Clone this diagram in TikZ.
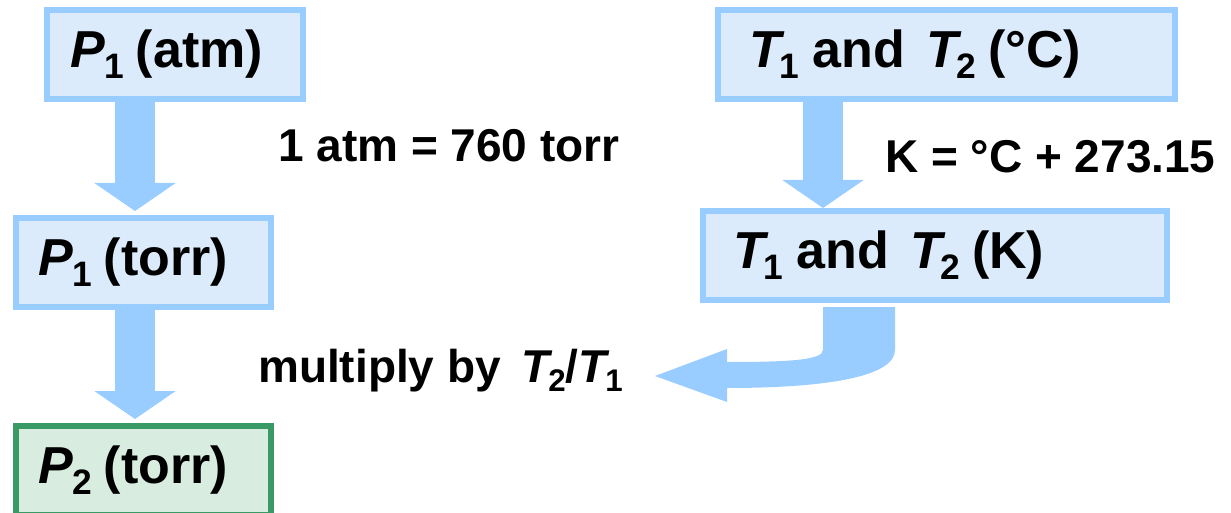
\documentclass[tikz,border=0pt]{standalone}
\usepackage{fontspec}
\setmainfont{Liberation Sans}
\usetikzlibrary{arrows.meta, calc}
\definecolor{flowblue}{HTML}{99CCFF}
\definecolor{boxfill}{HTML}{DCEBFB}
\definecolor{greenline}{HTML}{3A9A66}
\definecolor{greenfill}{HTML}{D8ECDF}
\newcommand{\lo}[2][-0.1em]{\kern#1\raisebox{-0.21em}{\scalebox{0.68}{#2}}}

\begin{document}
\begin{tikzpicture}[x=1pt, y=-1pt, font=\fontsize{46}{52}\selectfont\bfseries,
    box/.style={draw=flowblue, fill=boxfill, line width=6pt, minimum height=89pt,
      align=left, inner ysep=0pt, font=\fontsize{52}{60}\selectfont\bfseries},
    endbox/.style={box, draw=greenline, fill=greenfill},
    flow/.style={draw=flowblue, line width=40pt, shorten >=4pt,
      -{Triangle[length=28pt, width=80pt]}},
    lbl/.style={anchor=base west, inner sep=0pt}]
  \useasboundingbox (0,0) rectangle (1231,513);

  % left column: pressure
  \node[box, text width=210pt, inner xsep=23pt] (p1atm)  at (175,54.5)    {\textit{P}\lo[0em]{1}\hspace{0.22em}(atm)};
  \node[box, text width=211pt, inner xsep=22pt] (p1torr) at (143.5,262.5) {\textit{P}\lo[0em]{1}\hspace{0.22em}(torr)};
  \node[endbox, text width=211pt, inner xsep=22pt] (p2torr) at (143.5,470.5) {\textit{P}\lo[0em]{2}\hspace{0.22em}(torr)};

  % right column: temperature
  \node[box, text width=395pt, inner xsep=31pt] (tc) at (946.5,54.5)
    {\textit{T}\lo{1}\hspace{0.26em}and\hspace{0.42em}\textit{T}\lo{2}\hspace{0.22em}(°C)};
  \node[box, text width=404pt, inner xsep=30pt] (tk) at (935,255.5)
    {\textit{T}\lo{1}\hspace{0.26em}and\hspace{0.42em}\textit{T}\lo{2}\hspace{0.22em}(K)};

  \coordinate (lx) at (135,0);
  \coordinate (rx) at (823,0);
  \draw[flow] (p1atm.south -| lx)  -- (p1torr.north -| lx);
  \draw[flow] (p1torr.south -| lx) -- (p2torr.north -| lx);
  \draw[flow, shorten >=0pt] (tc.south -| rx) -- (tk.north -| rx);

  % bent arrow back to the pressure side
  \fill[flowblue] ([xshift=-112pt, yshift=-4pt]tk.south) -- ++(72,0) -- ++(0,43)
    .. controls +(0,28) and +(93,0) .. ++(-168,38) -- ++(0,14) -- ++(-72,-26)
    -- ++(72,-27) -- ++(0,13) .. controls +(63,0) and +(0,10) .. ++(96,-12) -- cycle;

  \node[lbl] (conv)  at (278,162) {1 atm = 760 torr};
  \node[lbl] (kelv)  at (885,173) {K = °C + 273.15};
  \node[lbl] (mult)  at (258,382) {multiply by\hspace{0.45em}\textit{T}\lo{2}/\textit{T}\lo{1}};
\end{tikzpicture}
\end{document}
